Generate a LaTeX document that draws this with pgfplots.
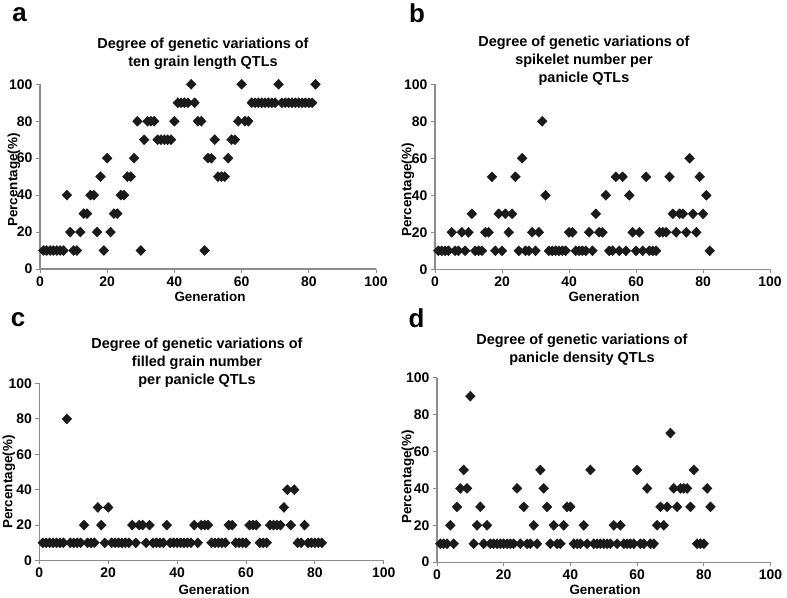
\documentclass[border=0pt]{standalone}
\usepackage{pgfplots}
\pgfplotsset{compat=1.18}
\usepackage{fontspec}
\setmainfont{Liberation Sans}
\definecolor{axisgray}{HTML}{8C8C8C}
\definecolor{markc}{HTML}{1A1A1A}
\pgfplotsset{
  panel/.style={
    scale only axis, anchor=south west,
    xmin=0,xmax=100,ymin=0,ymax=100,
    axis x line*=bottom, axis y line*=left,
    axis line style={draw=axisgray, line width=1.1bp},
    xtick={0,20,...,100}, ytick={0,20,...,100},
    tick style={draw=axisgray, line width=0.9bp},
    tick align=outside, major tick length=4bp,
    tick label style={font=\fontsize{14}{14}\selectfont\bfseries, text=black},
    /pgf/number format/assume math mode=true,
    clip=false,
  },
  dia/.style={only marks, mark=diamond*, mark size=5bp,
    mark options={fill=markc, draw=markc, xscale=1.3}},
}
\newcommand{\ttl}{\fontsize{14.5}{18}\selectfont\bfseries}
\newcommand{\lbl}{\fontsize{13.5}{14}\selectfont\bfseries}
\begin{document}
\begin{tikzpicture}[x=1bp,y=1bp]
\path[use as bounding box] (0,0) rectangle (787,598);

% ---------- panel a ----------
\begin{axis}[panel, at={(40bp,329bp)}, width=336bp, height=184.7bp]
\addplot[dia] coordinates {
(1,10)(2,10)(3,10)(4,10)(5,10)(6,10)(7,10)(8,40)(9,20)(10,10)
(11,10)(12,20)(13,30)(14,30)(15,40)(16,40)(17,20)(18,50)(19,10)(20,60)
(21,20)(22,30)(23,30)(24,40)(25,40)(26,50)(27,50)(28,60)(29,80)(30,10)
(31,70)(32,80)(33,80)(34,80)(35,70)(36,70)(37,70)(38,70)(39,70)(40,80)
(41,90)(42,90)(43,90)(44,90)(45,100)(46,90)(47,80)(48,80)(49,10)(50,60)
(51,60)(52,70)(53,50)(54,50)(55,50)(56,60)(57,70)(58,70)(59,80)(60,100)
(61,80)(62,80)(63,90)(64,90)(65,90)(66,90)(67,90)(68,90)(69,90)(70,90)
(71,100)(72,90)(73,90)(74,90)(75,90)(76,90)(77,90)(78,90)(79,90)(80,90)
(81,90)(82,100)};
\end{axis}

% ---------- panel b ----------
\begin{axis}[panel, at={(435bp,328.7bp)}, width=335bp, height=185bp]
\addplot[dia] coordinates {
(1,10)(2,10)(3,10)(4,10)(5,20)(6,10)(7,10)(8,20)(9,10)(10,20)
(11,30)(12,10)(13,10)(14,10)(15,20)(16,20)(17,50)(18,10)(19,30)(20,10)
(21,30)(22,20)(23,30)(24,50)(25,10)(26,60)(27,10)(28,10)(29,20)(30,10)
(31,20)(32,80)(33,40)(34,10)(35,10)(36,10)(37,10)(38,10)(39,10)(40,20)
(41,20)(42,10)(43,10)(44,10)(45,10)(46,20)(47,10)(48,30)(49,20)(50,20)
(51,40)(52,10)(53,10)(54,50)(55,10)(56,50)(57,10)(58,40)(59,20)(60,10)
(61,20)(62,10)(63,50)(64,10)(65,10)(66,10)(67,20)(68,20)(69,20)(70,50)
(71,30)(72,20)(73,30)(74,30)(75,20)(76,60)(77,30)(78,20)(79,50)(80,30)
(81,40)(82,10)};
\end{axis}

% ---------- panel c ----------
\begin{axis}[panel, at={(39.3bp,37.5bp)}, width=344.5bp, height=177bp]
\addplot[dia] coordinates {
(1,10)(2,10)(3,10)(4,10)(5,10)(6,10)(7,10)(8,80)(9,10)(10,10)
(11,10)(12,10)(13,20)(14,10)(15,10)(16,10)(17,30)(18,20)(19,10)(20,30)
(21,10)(22,10)(23,10)(24,10)(25,10)(26,10)(27,20)(28,10)(29,20)(30,20)
(31,10)(32,20)(33,10)(34,10)(35,10)(36,10)(37,20)(38,10)(39,10)(40,10)
(41,10)(42,10)(43,10)(44,10)(45,20)(46,10)(47,20)(48,20)(49,20)(50,10)
(51,10)(52,10)(53,10)(54,10)(55,20)(56,20)(57,10)(58,10)(59,10)(60,10)
(61,20)(62,20)(63,20)(64,10)(65,10)(66,10)(67,20)(68,20)(69,20)(70,20)
(71,30)(72,40)(73,20)(74,40)(75,10)(76,10)(77,20)(78,10)(79,10)(80,10)
(81,10)(82,10)};
\end{axis}

% ---------- panel d ----------
\begin{axis}[panel, at={(437bp,35.8bp)}, width=333.5bp, height=184.5bp]
\addplot[dia] coordinates {
(1,10)(2,10)(3,10)(4,20)(5,10)(6,30)(7,40)(8,50)(9,40)(10,90)
(11,10)(12,20)(13,30)(14,10)(15,20)(16,10)(17,10)(18,10)(19,10)(20,10)
(21,10)(22,10)(23,10)(24,40)(25,10)(26,30)(27,10)(28,10)(29,20)(30,10)
(31,50)(32,40)(33,30)(34,10)(35,20)(36,10)(37,10)(38,20)(39,30)(40,30)
(41,10)(42,10)(43,10)(44,20)(45,10)(46,50)(47,10)(48,10)(49,10)(50,10)
(51,10)(52,10)(53,20)(54,10)(55,20)(56,10)(57,10)(58,10)(59,10)(60,50)
(61,10)(62,10)(63,40)(64,10)(65,10)(66,20)(67,30)(68,20)(69,30)(70,70)
(71,40)(72,30)(73,40)(74,40)(75,40)(76,30)(77,50)(78,10)(79,10)(80,10)
(81,40)(82,30)};
\end{axis}

% ---------- panel letters ----------
\node[font=\fontsize{26}{26}\selectfont\bfseries] at (19.5,583) {a};
\node[font=\fontsize{26}{26}\selectfont\bfseries] at (417,585) {b};
\node[font=\fontsize{26}{26}\selectfont\bfseries] at (18,278) {c};
\node[font=\fontsize{26}{26}\selectfont\bfseries] at (416.5,280) {d};

% ---------- titles ----------
\node[font=\ttl, align=center, anchor=north] at (203,563) {Degree of genetic variations of\\ten grain length QTLs};
\node[font=\ttl, align=center, anchor=north] at (584,565) {Degree of genetic variations of\\spikelet number per\\panicle QTLs};
\node[font=\ttl, align=center, anchor=north] at (197,263) {Degree of genetic variations of\\filled grain number\\per panicle QTLs};
\node[font=\ttl, align=center, anchor=north] at (582,267) {Degree of genetic variations of\\panicle density QTLs};

% ---------- axis labels ----------
\node[font=\lbl, rotate=90] at (14,418) {Percentage(\%)};
\node[font=\lbl, rotate=90] at (408,408) {Percentage(\%)};
\node[font=\lbl, rotate=90] at (9,116) {Percentage(\%)};
\node[font=\lbl, rotate=90] at (408,121) {Percentage(\%)};
\node[font=\lbl] at (210,301) {Generation};
\node[font=\lbl] at (604,301) {Generation};
\node[font=\lbl] at (214,8) {Generation};
\node[font=\lbl] at (605,8) {Generation};
\end{tikzpicture}
\end{document}
